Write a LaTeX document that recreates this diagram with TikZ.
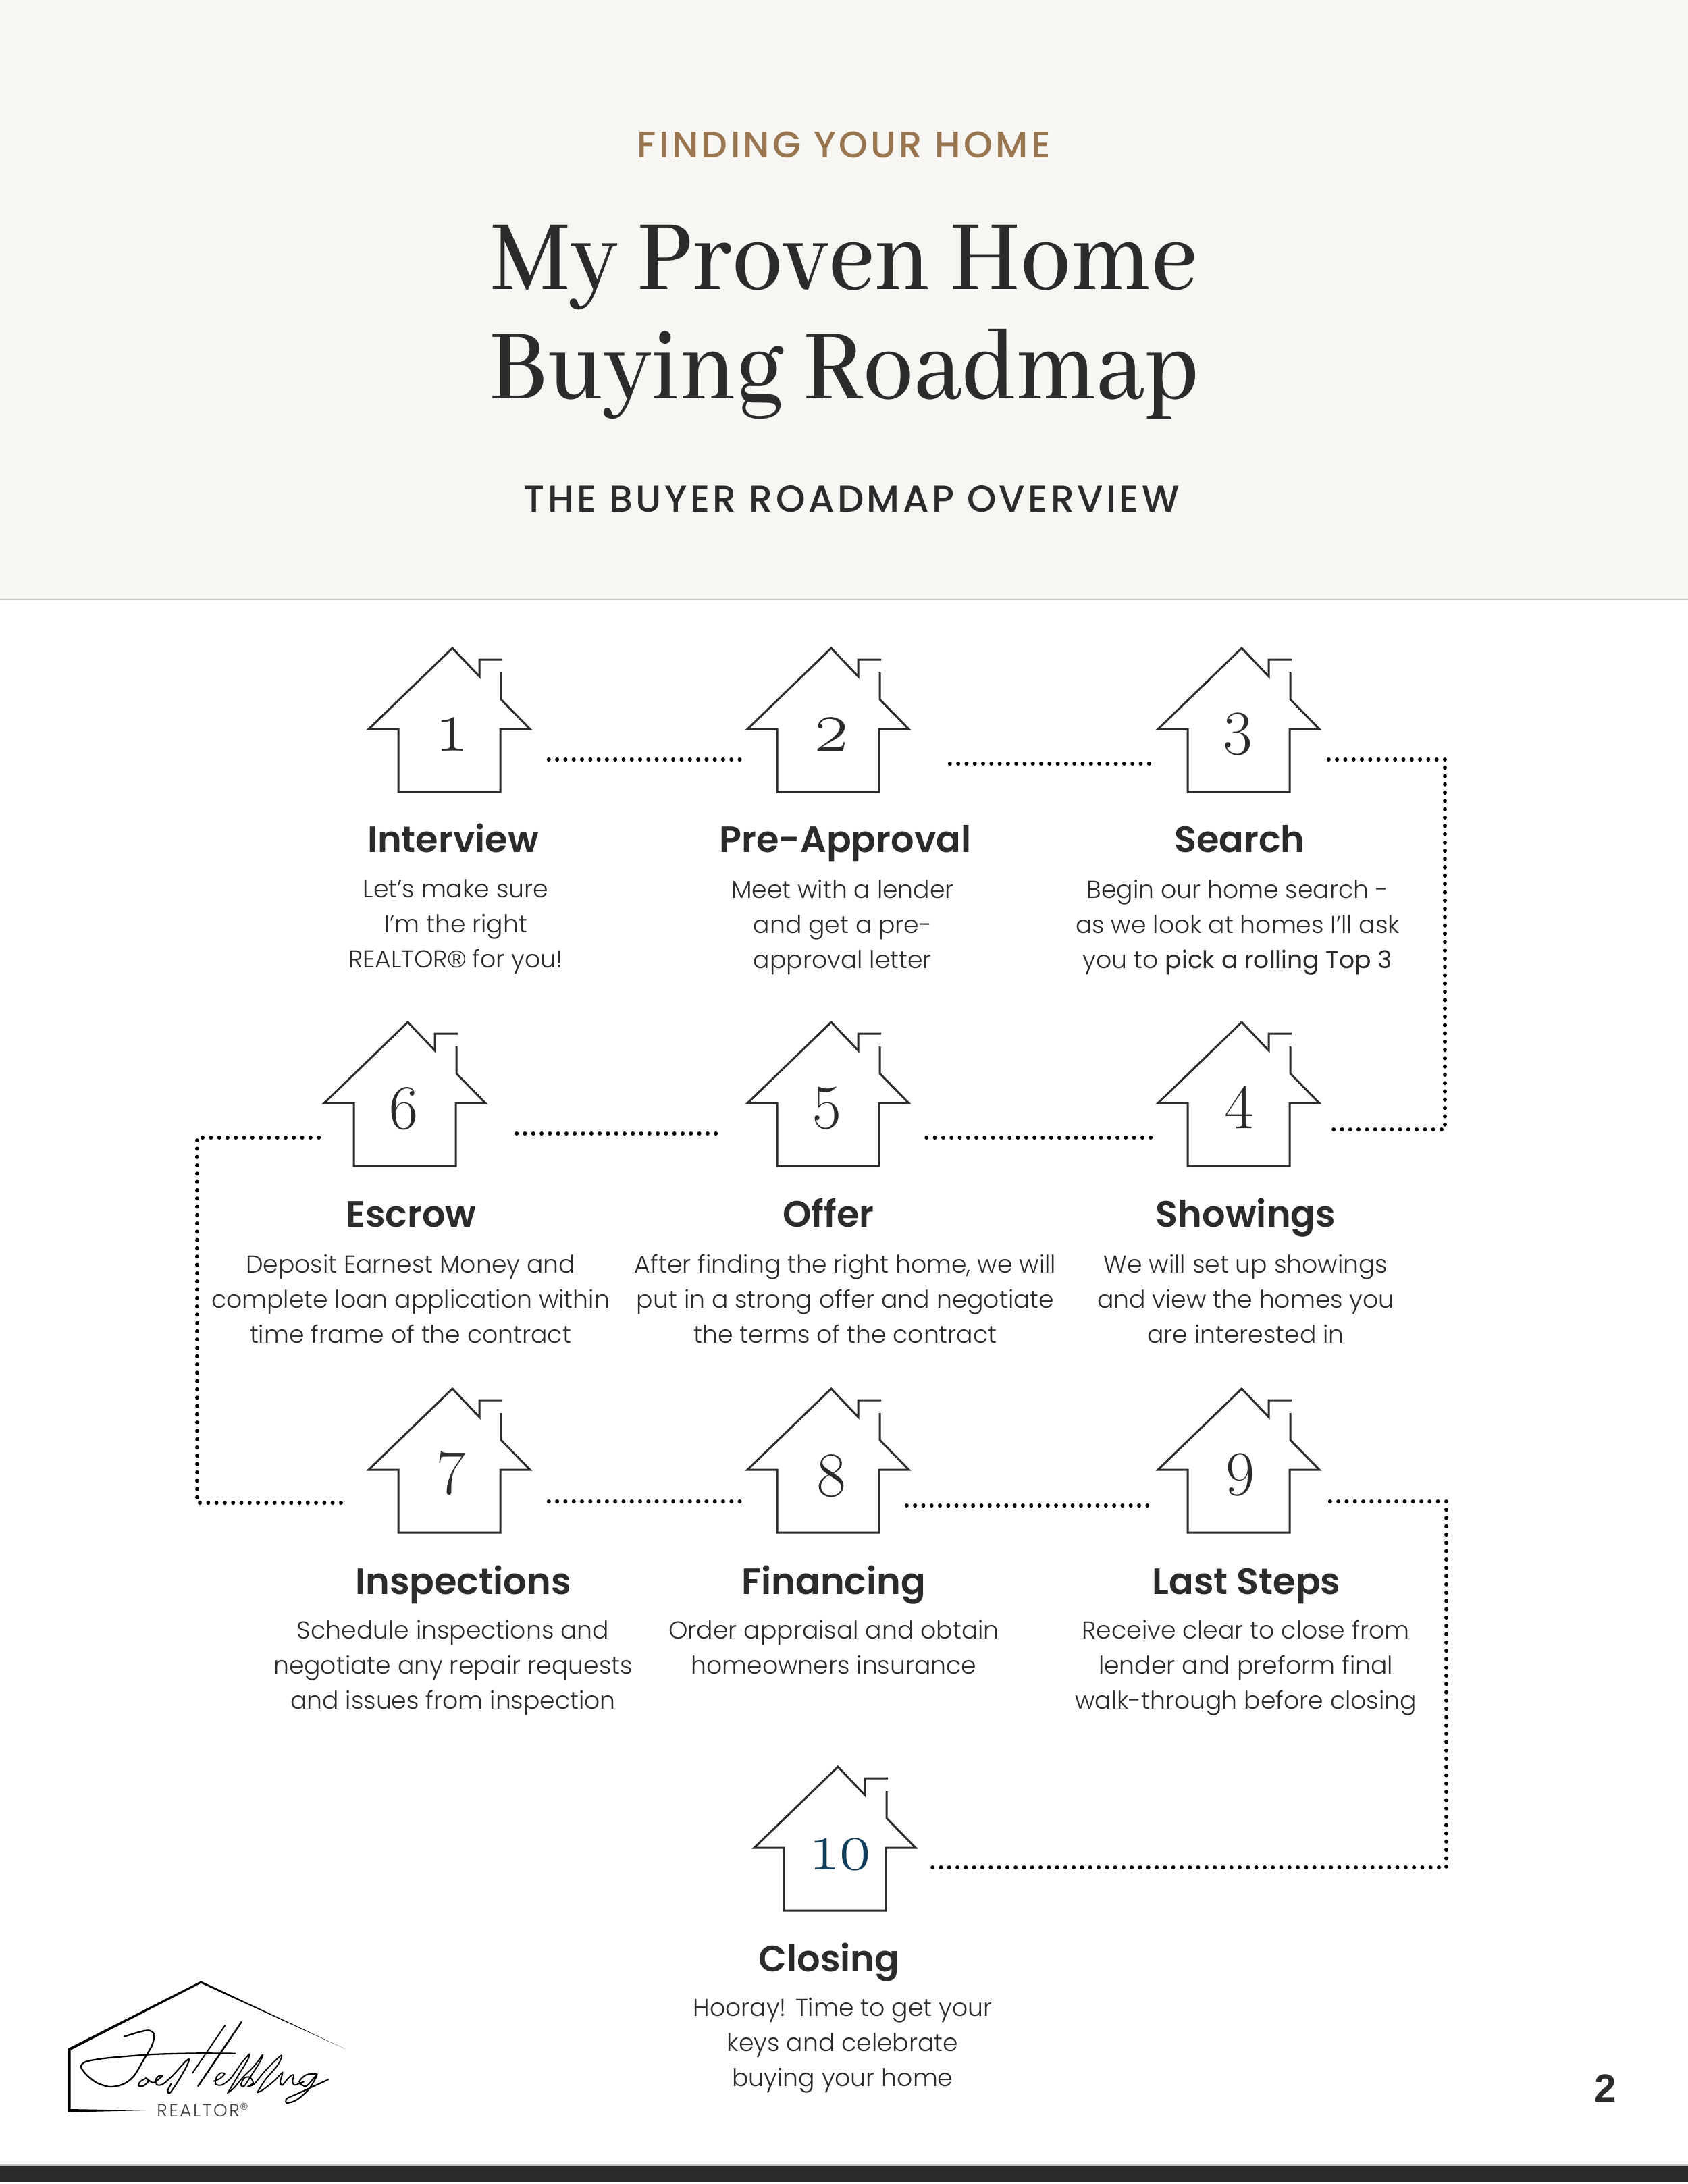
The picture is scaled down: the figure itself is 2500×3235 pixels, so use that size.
\documentclass[tikz,border=0pt]{standalone}
\usepackage{fontspec}
\usepackage{xcolor}
\usepackage{tikz}
\usetikzlibrary{positioning, calc}
\setmainfont{Poppins Light}
\newfontfamily\bodyfont{Poppins Light}
\newfontfamily\bodyregular{Poppins}
\newfontfamily\headfont{Poppins SemiBold}
\newfontfamily\capsfont[LetterSpace=8]{Poppins Medium}
\newfontfamily\titlefont[FakeStretch=0.92]{Abhaya Libre Medium}
\newfontfamily\pagefont{Liberation Sans}
\newfontfamily\numfont[Numbers=OldStyle]{Latin Modern Roman}
\definecolor{maincolor}{RGB}{43, 43, 43}
\definecolor{bandcolor}{RGB}{247, 246, 243}
\definecolor{browncolor}{RGB}{154, 118, 80}
\definecolor{tealcolor}{RGB}{15, 61, 92}

\begin{document}
\begin{tikzpicture}[
  x=0.24pt, y=-0.24pt,
  houseline/.style={draw=maincolor, line width=0.72pt},
  housebox/.style={inner sep=0pt, minimum width=57.36pt, minimum height=51.12pt},
  housenum/.style={anchor=base, inner sep=0pt},
  dotline/.style={line width=1.44pt, line cap=round, dash pattern=on 0pt off 2.95pt},
  steptitle/.style={anchor=base, inner sep=0pt, text=maincolor, font=\headfont\fontsize{13}{16}\selectfont},
  stepbody/.style={anchor=north, inner sep=0pt, align=center, text=maincolor, font=\bodyfont\fontsize{8.68}{12.48}\selectfont, execute at begin node=\strut},
  capsline/.style={inner sep=0pt, anchor=base}
]
\useasboundingbox (0,0) rectangle (2500,3235);

% header band
\fill[bandcolor] (0,0) rectangle (2500,887);
\draw[draw=black!22, line width=0.7pt] (0,888) -- (2500,888);
\node[capsline, text=browncolor, font=\capsfont\fontsize{13.1}{16}\selectfont] (kicker) at (1250,233) {FINDING YOUR HOME};
\node[inner sep=0pt, anchor=base, text=maincolor, font=\titlefont\fontsize{39}{39.1}\selectfont] (title1) at (1250,428) {My Proven Home};
\node[inner sep=0pt, anchor=base, text=maincolor, font=\titlefont\fontsize{39}{39.1}\selectfont] (title2) at (1250,590) {Buying Roadmap};
\node[capsline, text=maincolor, font=\capsfont\fontsize{13.3}{16}\selectfont] (overview) at (1261,758) {THE BUYER ROADMAP OVERVIEW};

% houses
\foreach \hname/\hx/\hy/\dx/\dy/\hfs/\hcol in {
  1/670/960/0/0/25.7/maincolor, 2/1231/960/0/0/25.7/maincolor, 3/1839/960/-6/-13/22.5/maincolor,
  4/1839/1514/-4/-13/22.5/maincolor, 5/1231/1514/-6/-13/22.5/maincolor, 6/604/1514/-6/6/22.5/maincolor,
  7/670/2057/0/-15/22.5/maincolor, 8/1231/2057/0/7/22.5/maincolor, 9/1839/2057/-2/-13/22.5/maincolor,
  10/1241/2617/7/0/24/tealcolor}
{
  \node[housebox] (h\hname) at (\hx-4.5,\hy+106.5) {};
  \draw[houseline, shift={(\hx,\hy)}] (72,36) -- (72,76) -- (115,120) -- (71,120) -- (71,213) -- (-80,213) -- (-80,120) -- (-124,120) -- (0,0) -- (40,42) -- (40,17) -- (74,17);
  \node[housenum, text=\hcol, font=\numfont\fontsize{\hfs}{30}\selectfont] (n\hname) at (\hx+\dx,\hy+152+\dy) {\hname};
}

% connectors
\draw[dotline] ([shift={(27,58.5)}]h1.east) -- ([shift={(-9,58.5)}]h2.west);
\draw[dotline] ([shift={(60,64.5)}]h2.east) -- ([shift={(-8,64.5)}]h3.west);
\coordinate (c3a) at (2140,1125);
\coordinate (c3b) at (2140,1673);
\draw[dotline] ([shift={(13,58.5)}]h3.east) -- (c3a) -- (c3b) -- ([shift={(11,52.5)}]h4.east);
\draw[dotline] ([shift={(-10,64.5)}]h4.west) -- ([shift={(21,64.5)}]h5.east);
\draw[dotline] ([shift={(-46,58.5)}]h5.west) -- ([shift={(43,58.5)}]h6.east);
\coordinate (c6a) at (292,1685);
\coordinate (c6b) at (292,2226);
\draw[dotline] ([shift={(-7,64.5)}]h6.west) -- (c6a) -- (c6b) -- ([shift={(-36,62.5)}]h7.west);
\draw[dotline] ([shift={(27,60.5)}]h7.east) -- ([shift={(-9,60.5)}]h8.west);
\draw[dotline] ([shift={(-4,66.5)}]h8.east) -- ([shift={(-12,66.5)}]h9.west);
\coordinate (c9a) at (2142,2224);
\coordinate (c9b) at (2142,2766);
\draw[dotline] ([shift={(15,60.5)}]h9.east) -- (c9a) -- (c9b) -- ([shift={(13,42.5)}]h10.east);

% step texts
\node[steptitle] (t1) at (671,1262) {Interview};
\node[stepbody] (b1) at (675,1302) {Let’s make sure\\I’m the right\\REALTOR{\pagefont ®} for you!};
\node[steptitle] (t2) at (1252,1262) {Pre-Approval};
\node[stepbody] (b2) at (1248,1302) {Meet with a lender\\and get a pre-\\approval letter};
\node[steptitle] (t3) at (1836,1262) {Search};
\node[stepbody] (b3) at (1833,1302) {Begin our home search -\\as we look at homes I’ll ask\\you to {\bodyregular pick a rolling Top 3}};
\node[steptitle] (t4) at (1845,1817) {Showings};
\node[stepbody] (b4) at (1845,1857) {We will set up showings\\and view the homes you\\are interested in};
\node[steptitle] (t5) at (1227,1817) {Offer};
\node[stepbody] (b5) at (1252,1857) {After finding the right home, we will\\put in a strong offer and negotiate\\the terms of the contract};
\node[steptitle] (t6) at (609,1817) {Escrow};
\node[stepbody] (b6) at (608,1857) {Deposit Earnest Money and\\complete loan application within\\time frame of the contract};
\node[steptitle] (t7) at (686,2361) {Inspections};
\node[stepbody] (b7) at (671,2399) {Schedule inspections and\\negotiate any repair requests\\and issues from inspection};
\node[steptitle] (t8) at (1235,2361) {Financing};
\node[stepbody] (b8) at (1235,2399) {Order appraisal and obtain\\homeowners insurance};
\node[steptitle] (t9) at (1846,2361) {Last Steps};
\node[stepbody] (b9) at (1845,2399) {Receive clear to close from\\lender and preform final\\walk-through before closing};
\node[steptitle] (t10) at (1228,2920) {Closing};
\node[stepbody] (b10) at (1248,2958) {Hooray! Time to get your\\keys and celebrate\\buying your home};

% logo, in units of a third of a pixel
\begin{scope}[shift={(60,2900)}, x=0.08pt, y=-0.08pt]
  \fill[black] (713,103) -- (1355,405) -- (713,113) -- (134,410) -- (134,672) -- (470,678) -- (122,686) -- (122,403) -- cycle;
  \draw[black, line width=0.55pt, line cap=round] plot[smooth] coordinates {(372,350) (430,332) (480,322) (505,340) (495,390) (460,450) (415,525) (370,560) (310,573) (250,555) (205,520) (180,485) (200,462) (280,447) (400,436) (520,428) (700,424) (865,425)};
  \draw[black, line width=0.5pt, line cap=round] plot[smooth] coordinates {(470,535) (445,548) (435,568) (455,570) (478,550) (470,535) (500,555) (530,535) (540,525) (525,525) (510,545) (520,565) (545,560) (590,520) (640,465) (660,450) (650,480) (610,550) (575,600) (565,590) (580,560)};
  \draw[black, line width=0.45pt, line cap=round] (820,300) -- (675,512);
  \draw[black, line width=0.6pt, line cap=round] (893,285) -- (700,570);
  \draw[black, line width=0.45pt, line cap=round] plot[smooth] coordinates {(770,548) (800,535) (818,515) (800,512) (782,530) (778,560) (805,565) (845,535) (895,465) (928,428) (920,455) (880,520) (838,590) (835,598) (860,578) (900,530) (950,480) (988,430) (975,462) (935,525) (905,570) (890,565) (905,535) (930,530) (945,555) (925,570) (950,560) (1000,500) (1070,433) (1055,475) (1000,540) (968,590) (965,598) (990,585) (1040,545) (1075,510) (1065,550) (1075,565) (1105,530) (1125,520) (1120,550) (1130,565) (1170,550)};
  \draw[black, line width=0.5pt, line cap=round] plot[smooth] coordinates {(1225,515) (1180,520) (1150,550) (1180,570) (1228,520) (1195,580) (1140,630) (1095,645) (1095,625) (1150,600) (1280,540)};
  \node[inner sep=0pt, anchor=base west, text=black!75, font=\bodyfont\fontsize{6.3}{7}\selectfont] (realtor) at (515,705) {R\kern.1em E\kern.1em A\kern.1em L\kern.1em T\kern.1em O\kern.1em R\kern.05em\raisebox{.35em}{\pagefont\fontsize{3.5}{3.5}\selectfont ®}};
\end{scope}

% page number and foot band
\node[inner sep=0pt, anchor=base, text=maincolor, font=\pagefont\bfseries\fontsize{14}{17}\selectfont] (pagenum) at (2378,3113) {2};
\draw[draw=black!25, line width=0.5pt] (0,3207) -- (2500,3207);
\fill[maincolor] (0,3209) rectangle (2500,3232);
\end{tikzpicture}
\end{document}
